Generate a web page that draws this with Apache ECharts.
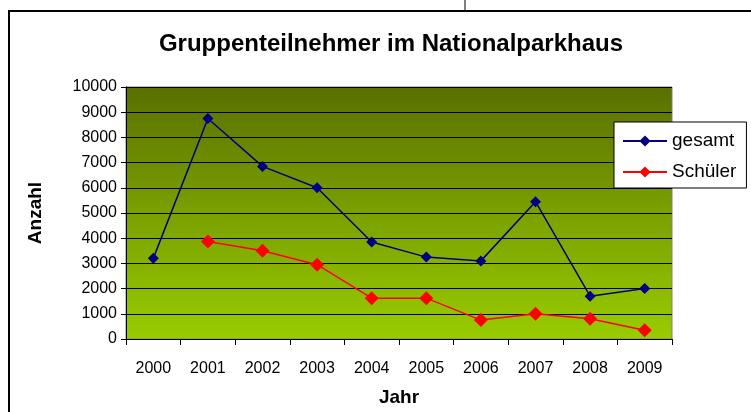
<!DOCTYPE html>
<html>
<head>
<meta charset="utf-8">
<script src="https://cdn.jsdelivr.net/npm/echarts@6/dist/echarts.min.js"></script>
<style>
  html, body { margin: 0; padding: 0; background: #fff; }
  #main { width: 751px; height: 412px; }
</style>
</head>
<body>
<div id="main"></div>
<script>
// Jahre und Werte
var jahre = ['2000', '2001', '2002', '2003', '2004', '2005', '2006', '2007', '2008', '2009'];
var gesamt = [3200, 8750, 6850, 6000, 3850, 3250, 3100, 5450, 1700, 2000];
var schueler = [null, 3870, 3500, 2950, 1620, 1620, 750, 1000, 800, 350];

var chart = echarts.init(document.getElementById('main'));

var option = {
  animation: false,
  textStyle: { fontFamily: 'Liberation Sans, Arial, sans-serif' },
  title: {
    text: 'Gruppenteilnehmer im Nationalparkhaus',
    left: 386,
    top: 27,
    textAlign: 'center',
    textStyle: { fontSize: 24, fontWeight: 'bold', color: '#000' }
  },
  legend: {
    orient: 'vertical',
    left: 614,
    top: 122,
    padding: [9, 10, 6, 8],
    itemGap: 11,
    itemWidth: 44,
    itemHeight: 14,
    backgroundColor: '#fff',
    borderColor: '#000',
    borderWidth: 1,
    textStyle: { fontSize: 19, lineHeight: 20, color: '#000' },
    data: ['gesamt', 'Schüler']
  },
  graphic: [
    { type: 'polyline', shape: { points: [[9, 412], [9, 11], [751, 11]] }, style: { stroke: '#000', lineWidth: 2, fill: null } },
    { type: 'line', shape: { x1: 465, y1: 0, x2: 465, y2: 11 }, style: { stroke: '#000', lineWidth: 1 } }
  ],
  grid: {
    left: 126,
    right: 79,
    top: 87,
    bottom: 73,
    outerBoundsMode: 'none',
    containLabel: false,
    show: true,
    borderColor: '#808080',
    borderWidth: 1,
    backgroundColor: new echarts.graphic.LinearGradient(0, 0, 0, 1, [
      { offset: 0, color: '#597000' },
      { offset: 0.5, color: '#7aa000' },
      { offset: 1, color: '#99cc00' }
    ])
  },
  xAxis: {
    type: 'category',
    data: jahre,
    boundaryGap: true,
    name: 'Jahr',
    nameLocation: 'middle',
    nameGap: 49,
    nameTextStyle: { fontSize: 19, fontWeight: 'bold', color: '#000' },
    axisLine: { lineStyle: { color: '#000', width: 1 } },
    axisTick: { show: true, length: 6, alignWithLabel: false, lineStyle: { color: '#000' } },
    axisLabel: { fontSize: 16, color: '#000', margin: 22 },
    splitLine: { show: false }
  },
  yAxis: {
    type: 'value',
    min: 0,
    max: 10000,
    interval: 1000,
    name: 'Anzahl',
    nameLocation: 'middle',
    nameGap: 81,
    nameRotate: 90,
    nameTextStyle: { fontSize: 19, fontWeight: 'bold', color: '#000' },
    axisLine: { show: true, lineStyle: { color: '#000', width: 1 } },
    axisTick: { show: true, length: 5, lineStyle: { color: '#000' } },
    axisLabel: { fontSize: 16, color: '#000', margin: 9, formatter: function (v) { return String(v); } },
    splitLine: { show: true, lineStyle: { color: '#000', width: 1 } }
  },
  series: [
    {
      name: 'gesamt',
      type: 'line',
      data: gesamt,
      color: '#000080',
      symbol: 'diamond',
      symbolSize: 11,
      lineStyle: { width: 1.5, color: '#000080' },
      itemStyle: { color: '#000080' }
    },
    {
      name: 'Schüler',
      type: 'line',
      data: schueler,
      color: '#ff0000',
      symbol: 'diamond',
      symbolSize: 14,
      lineStyle: { width: 1.5, color: '#ff0000' },
      itemStyle: { color: '#ff0000' }
    }
  ]
};

chart.setOption(option);
</script>
</body>
</html>
